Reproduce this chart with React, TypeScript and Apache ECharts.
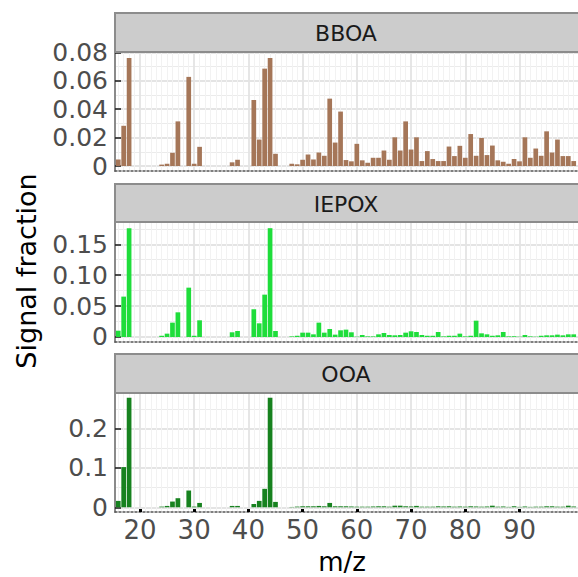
import React, { useEffect, useRef } from "react";
import * as echarts from "echarts";

const mz = [16, 17, 18, 19, 20, 21, 22, 23, 24, 25, 26, 27, 28, 29, 30, 31, 32, 33, 34, 35, 36, 37, 38, 39, 40, 41, 42, 43, 44, 45, 46, 47, 48, 49, 50, 51, 52, 53, 54, 55, 56, 57, 58, 59, 60, 61, 62, 63, 64, 65, 66, 67, 68, 69, 70, 71, 72, 73, 74, 75, 76, 77, 78, 79, 80, 81, 82, 83, 84, 85, 86, 87, 88, 89, 90, 91, 92, 93, 94, 95, 96, 97, 98, 99, 100];

const bboa = [0.0046, 0.0283, 0.076, 0, 0, 0, 0, 0, 0.001, 0.0016, 0.0093, 0.0314, 0, 0.0627, 0.0016, 0.0135, 0, 0, 0, 0, 0, 0.0026, 0.0044, 0, 0, 0.0465, 0.0186, 0.0685, 0.076, 0.0086, 0, 0, 0.0016, 0.0012, 0.0044, 0.0081, 0.0046, 0.0095, 0.0072, 0.0474, 0.0165, 0.0383, 0.0042, 0.0033, 0.0156, 0.004, 0.0023, 0.0058, 0.0058, 0.0109, 0.0044, 0.0202, 0.0109, 0.0314, 0.0116, 0.0202, 0.0035, 0.0105, 0.0049, 0.0035, 0.0035, 0.0137, 0.007, 0.0142, 0.0058, 0.0225, 0.0072, 0.0197, 0.0077, 0.0144, 0.004, 0.003, 0.0016, 0.0049, 0.0033, 0.0202, 0.0058, 0.0123, 0.0072, 0.0244, 0.0095, 0.0186, 0.007, 0.007, 0.0035];

const iepox = [0.0102, 0.0653, 0.176, 0, 0, 0, 0, 0, 0.002, 0.0054, 0.0232, 0.0399, 0, 0.0798, 0.002, 0.027, 0, 0, 0, 0, 0, 0.0076, 0.0097, 0, 0, 0.0448, 0.0221, 0.0685, 0.176, 0.0097, 0, 0, 0.001, 0.002, 0.007, 0.007, 0.0043, 0.0232, 0.007, 0.0129, 0.0038, 0.0108, 0.0119, 0.0076, 0.0005, 0.0032, 0.001, 0.001, 0.0043, 0.0065, 0.0032, 0.0027, 0.0032, 0.007, 0.0092, 0.0081, 0.0032, 0.002, 0.002, 0.0081, 0.001, 0.002, 0.002, 0.0054, 0.001, 0.002, 0.0264, 0.0059, 0.0043, 0.002, 0.0027, 0.0081, 0.001, 0.001, 0.0005, 0.0032, 0.001, 0.0005, 0.002, 0.0027, 0.0027, 0.0038, 0.0027, 0.0043, 0.0043];

const ooa = [0.0162, 0.102, 0.278, 0, 0, 0, 0, 0, 0.0017, 0.0034, 0.0145, 0.023, 0, 0.0425, 0.0017, 0.011, 0, 0, 0, 0, 0, 0.0034, 0.0034, 0, 0, 0.0085, 0.0162, 0.0468, 0.278, 0.0136, 0, 0, 0.0008, 0.0017, 0.0025, 0.0025, 0.0025, 0.0034, 0.0025, 0.011, 0.0025, 0.0025, 0.0025, 0.002, 0.0015, 0.0015, 0.0015, 0.002, 0.0025, 0.0025, 0.0015, 0.004, 0.004, 0.0025, 0.002, 0.0035, 0.0015, 0.0015, 0.0015, 0.0025, 0.002, 0.0025, 0.0015, 0.002, 0.0015, 0.0025, 0.002, 0.0015, 0.002, 0.004, 0.0015, 0.002, 0.001, 0.0025, 0.001, 0.002, 0.001, 0.0015, 0.0015, 0.0025, 0.0025, 0.0015, 0.0015, 0.004, 0.002];

const panelNames = ["BBOA", "IEPOX", "OOA"];
const panelColors = ["#a57658", "#1fdd3b", "#17821f"];

const xMajorTicks = [20, 30, 40, 50, 60, 70, 80, 90];
const xMinorTicks = [16, 17, 18, 19, 21, 22, 23, 24, 25, 26, 27, 28, 29, 31, 32, 33, 34, 35, 36, 37, 38, 39, 41, 42, 43, 44, 45, 46, 47, 48, 49, 51, 52, 53, 54, 55, 56, 57, 58, 59, 61, 62, 63, 64, 65, 66, 67, 68, 69, 71, 72, 73, 74, 75, 76, 77, 78, 79, 81, 82, 83, 84, 85, 86, 87, 88, 89, 91, 92, 93, 94, 95, 96, 97, 98, 99, 100];

const yMajorTicks = [
  [0, 0.02, 0.04, 0.06, 0.08],
  [0, 0.05, 0.1, 0.15],
  [0, 0.1, 0.2],
];
const yMajorLabels = [
  ["0", "0.02", "0.04", "0.06", "0.08"],
  ["0", "0.05", "0.10", "0.15"],
  ["0", "0.1", "0.2"],
];
const yMinorTicks = [
  [0.01, 0.03, 0.05, 0.07],
  [0.025, 0.075, 0.125, 0.175],
  [0.05, 0.15, 0.25],
];

const xTitle = "m/z";
const yTitle = "Signal fraction";

// layout
const FONT = "DejaVu Sans";
const LEFT = 115;
const RIGHT = -3;
const X_MIN = 15.4;
const X_MAX = 100.79;
const panelTop = [52, 222, 393];
const panelHeight = [119, 120, 119];
const stripTop = [13, 184, 354];
const yMin = [-0.0035, -0.0081, -0.012];
const yMax = [0.0802, 0.186, 0.29];

export default function App() {
  const ref = useRef<HTMLDivElement>(null);

  useEffect(() => {
    if (!ref.current) return;
    const chart = echarts.init(ref.current, undefined, { renderer: "svg" });
    const values = [bboa, iepox, ooa];

    const grid: any[] = [];
    const xAxis: any[] = [];
    const yAxis: any[] = [];
    const seriesOpt: any[] = [];
    const graphic: any[] = [];

    for (let i = 0; i < 3; i++) {
      grid.push({
        left: LEFT,
        right: RIGHT,
        top: panelTop[i],
        height: panelHeight[i],
        containLabel: false,
      });
    }
    // minor axes first (drawn underneath)
    for (let i = 0; i < 3; i++) {
      xAxis.push({
        type: "value",
        gridIndex: i,
        min: X_MIN,
        max: X_MAX,
        axisLine: { show: false, onZero: false },
        axisTick: { show: false, customValues: xMinorTicks },
        axisLabel: { show: false },
        splitLine: { show: true, lineStyle: { color: "#f2f2f2", width: 1 } },
      });
      yAxis.push({
        type: "value",
        gridIndex: i,
        min: yMin[i],
        max: yMax[i],
        axisLine: { show: false, onZero: false },
        axisTick: { show: false, customValues: yMinorTicks[i] },
        axisLabel: { show: false },
        splitLine: { show: true, lineStyle: { color: "#ebebeb", width: 1 } },
      });
    }
    for (let i = 0; i < 3; i++) {
      const isBottom = i === 2;
      xAxis.push({
        type: "value",
        gridIndex: i,
        min: X_MIN,
        max: X_MAX,
        position: "bottom",
        axisLine: {
          show: true,
          onZero: false,
          lineStyle: { color: "#555555", width: 1.5, type: [2, 2] },
        },
        axisTick: {
          show: isBottom,
          inside: true,
          length: 3,
          customValues: xMajorTicks,
          lineStyle: { color: "#000000", width: 3 },
        },
        axisLabel: {
          show: isBottom,
          customValues: xMajorTicks,
          fontSize: 26,
          fontFamily: FONT,
          color: "#4d4d4d",
          margin: 5,
        },
        splitLine: { show: true, lineStyle: { color: "#e4e4e4", width: 1.8 } },
      });
      const labels = yMajorLabels[i];
      const ticks = yMajorTicks[i];
      yAxis.push({
        type: "value",
        gridIndex: i,
        min: yMin[i],
        max: yMax[i],
        position: "left",
        axisLine: {
          show: true,
          onZero: false,
          lineStyle: { color: "#8a8a8a", width: 2 },
        },
        axisTick: {
          show: true,
          inside: true,
          length: 6,
          customValues: ticks,
          lineStyle: { color: "#1a1a1a", width: 1.5 },
        },
        axisLabel: {
          customValues: ticks,
          fontSize: 25,
          fontFamily: FONT,
          color: "#4d4d4d",
          margin: 7,
          formatter: (v: number) => {
            let best = 0;
            for (let k = 0; k < ticks.length; k++) {
              if (Math.abs(ticks[k] - v) < Math.abs(ticks[best] - v)) best = k;
            }
            return labels[best];
          },
        },
        splitLine: { show: true, lineStyle: { color: "#e4e4e4", width: 1.8 } },
      });
      seriesOpt.push({
        name: panelNames[i],
        type: "bar",
        xAxisIndex: 3 + i,
        yAxisIndex: 3 + i,
        data: mz.map((m, k) => [m, values[i][k]]),
        barWidth: 4.7,
        itemStyle: { color: panelColors[i] },
        z: 3,
      });
      graphic.push({
        type: "rect",
        shape: { x: LEFT, y: stripTop[i], width: 480, height: panelTop[i] - stripTop[i] },
        style: { fill: "#cccccc", stroke: "#8c8c8c", lineWidth: 2 },
        z: 10,
      });
      graphic.push({
        type: "text",
        x: 346,
        y: (stripTop[i] + panelTop[i]) / 2 + 1,
        style: {
          text: panelNames[i],
          fill: "#1a1a1a",
          fontSize: 22,
          fontFamily: FONT,
          align: "center",
          verticalAlign: "middle",
        },
        z: 11,
      });
    }
    graphic.push({
      type: "text",
      x: 26,
      y: 271,
      rotation: Math.PI / 2,
      style: {
        text: yTitle,
        fill: "#000000",
        fontSize: 27,
        fontFamily: FONT,
        align: "center",
        verticalAlign: "middle",
      },
    });
    graphic.push({
      type: "text",
      x: 342,
      y: 562,
      style: {
        text: xTitle,
        fill: "#000000",
        fontSize: 26,
        fontFamily: FONT,
        align: "center",
        verticalAlign: "middle",
      },
    });

    chart.setOption({
      animation: false,
      backgroundColor: "#ffffff",
      grid,
      xAxis,
      yAxis,
      series: seriesOpt,
      graphic,
    });
    return () => chart.dispose();
  }, []);

  return (
    <div
      ref={ref}
      style={{ position: "fixed", left: 0, top: 0, width: 578, height: 577 }}
    />
  );
}
